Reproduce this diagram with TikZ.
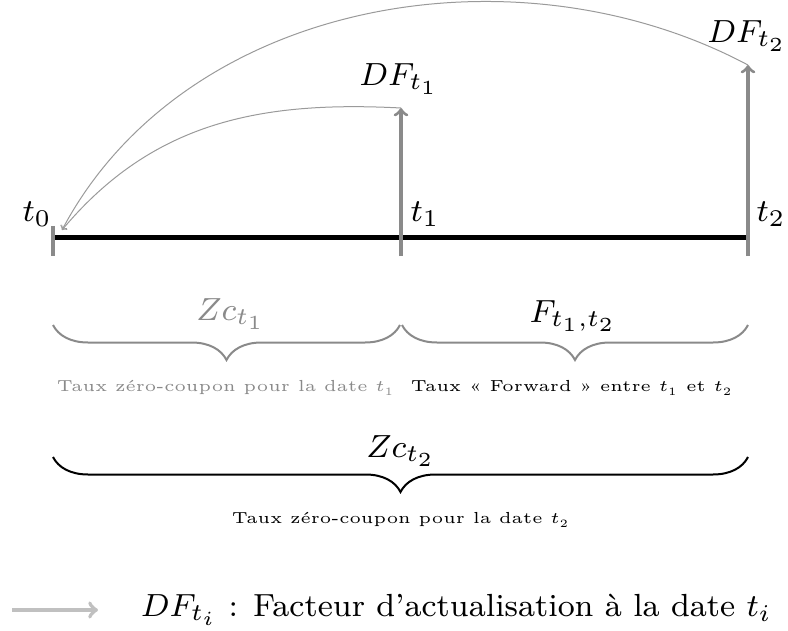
\RequirePackage{fix-cm}
\documentclass[tikz,border=0pt]{standalone}
\usetikzlibrary{decorations.pathreplacing}
\begin{document}
\begin{tikzpicture}[
  x=0.25pt, y=-0.25pt, scale=2, transform shape,
  font=\footnotesize,
  lbl/.style={font=\footnotesize, inner sep=0pt},
  note/.style={font=\fontsize{4}{5}\selectfont, inner sep=0pt, xscale=1.05},
  vec/.style={draw=dfgray, line width=1.6pt, ->},
  disc/.style={draw=curvegray, line width=0.5pt, ->},
  brc/.style={decorate, line width=1pt,
              decoration={brace, mirror, amplitude=17.5pt}},
  >=to
]
  \definecolor{dfgray}{HTML}{8A8A8A}
  \definecolor{curvegray}{HTML}{9A9A9A}
  \definecolor{leggray}{HTML}{C0C0C0}
  \useasboundingbox (0,0) rectangle (788,631);

  % ================= TIME AXIS =================
  \coordinate (a0) at (53,238);
  \coordinate (a2) at (748,238);
  \coordinate (t0top) at (53,226);
  \coordinate (t0bot) at (53,256);
  \coordinate (t1bot) at (401,256);
  \coordinate (t1top) at (401,108);
  \coordinate (t2bot) at (748,256);
  \coordinate (t2top) at (748,65);
  \coordinate (hit) at (62,230);

  \draw[line width=2.5pt] (a0) -- (a2);
  \draw[draw=dfgray, line width=1.6pt] (t0top) -- (t0bot);
  \draw[vec] (t1bot) -- (t1top);
  \draw[vec] (t2bot) -- (t2top);

  \node[lbl] (t0) at (37,214) {$t_0$};
  \node[lbl] (t1) at (425,214) {$t_1$};
  \node[lbl] (t2) at (771,214) {$t_2$};
  \node[lbl] (df1) at (399,79) {$DF_{t_1}$};
  \node[lbl] (df2) at (747,36) {$DF_{t_2}$};

  % discounting back to t0
  \draw[disc] (t1top) to[out=177, in=50] (hit);
  \draw[disc] (t2top) to[out=152, in=62, looseness=0.95] (hit);

  % ================= BRACES =================
  \coordinate (b1l) at (53,325);
  \coordinate (b1r) at (400,325);
  \coordinate (b2l) at (402,325);
  \coordinate (b2r) at (748,325);
  \coordinate (b3l) at (53,457);
  \coordinate (b3r) at (748,457);

  \draw[brc, draw=dfgray] (b1l) -- (b1r);
  \draw[brc, draw=dfgray] (b2l) -- (b2r);
  \draw[brc] (b3l) -- (b3r);

  \node[lbl, text=dfgray] (zc1) at (231,314) {$Zc_{t_1}$};
  \node[lbl] (fwd) at (573,316) {$F_{t_1,t_2}$};
  \node[lbl] (zc2) at (401,451) {$Zc_{t_2}$};

  \node[note, text=dfgray] (n1) at (226,388) {Taux zéro-coupon pour la date $t_1$};
  \node[note] (n2) at (572,388) {Taux «~Forward~» entre $t_1$ et $t_2$};
  \node[note] (n3) at (401,520) {Taux zéro-coupon pour la date $t_2$};

  % ================= LEGEND =================
  \coordinate (lgA) at (12,610);
  \coordinate (lgB) at (98,610);
  \draw[->, draw=leggray, line width=2pt] (lgA) -- (lgB);
  \node[lbl, anchor=west] (leg) at (140,610)
    {$DF_{t_i}$ : Facteur d'actualisation à la date $t_i$};
\end{tikzpicture}
\end{document}
